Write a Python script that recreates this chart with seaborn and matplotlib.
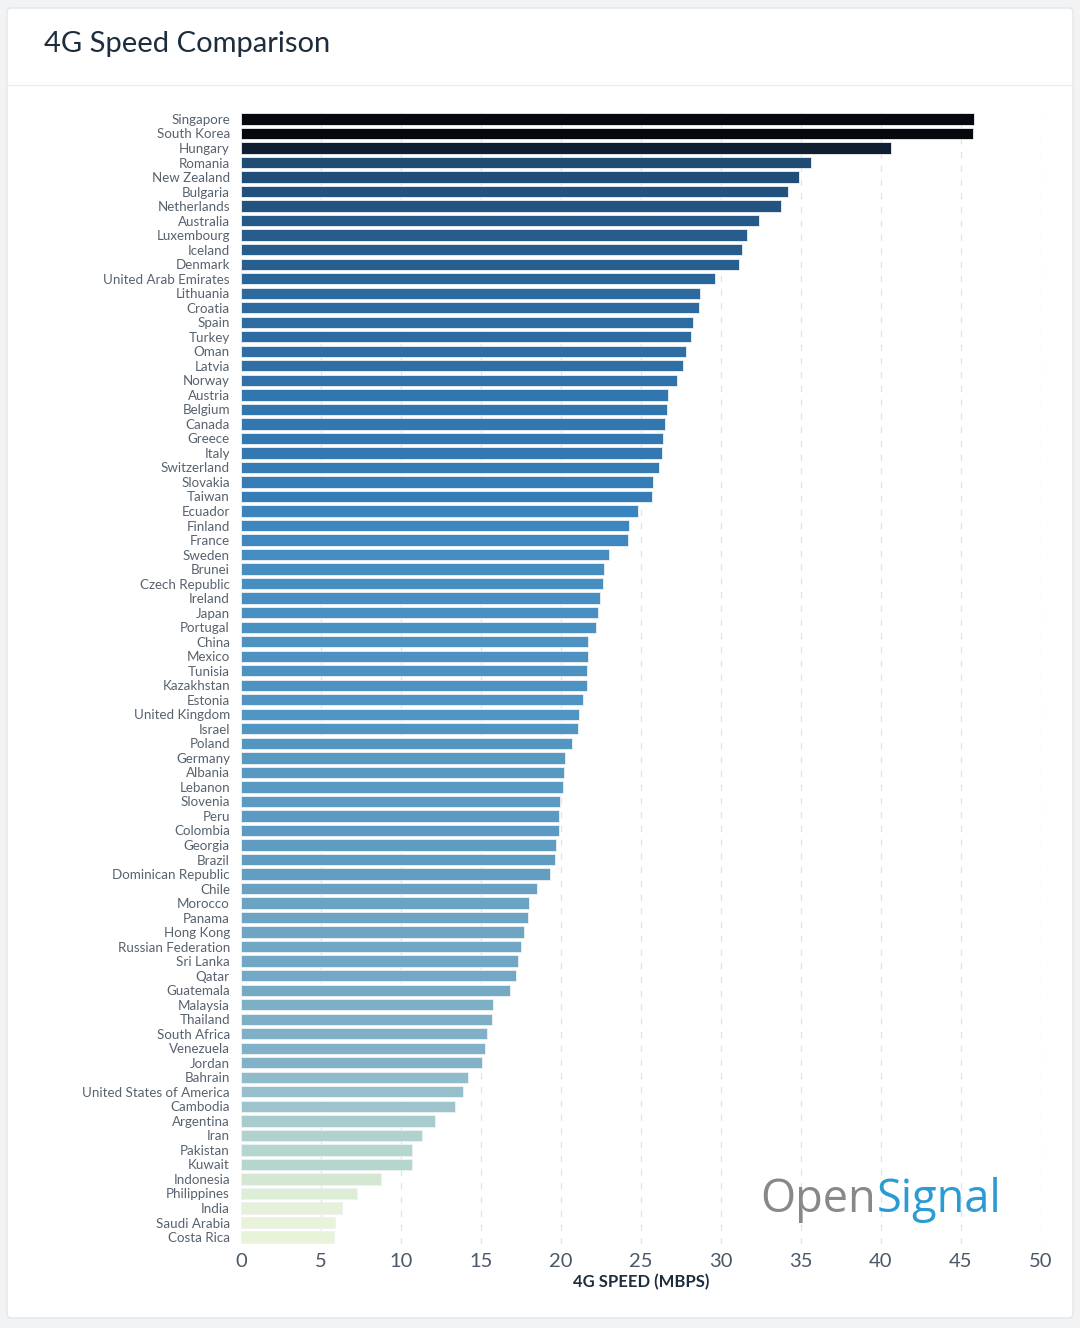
import numpy as np
import pandas as pd
import matplotlib
matplotlib.use("Agg")
import matplotlib.pyplot as plt
import seaborn as sns
from matplotlib.colors import LinearSegmentedColormap, Normalize
from matplotlib.patches import FancyBboxPatch
from matplotlib.lines import Line2D

# data (Mbps)
countries = [
    "Singapore", "South Korea", "Hungary", "Romania", "New Zealand", "Bulgaria",
    "Netherlands", "Australia", "Luxembourg", "Iceland", "Denmark",
    "United Arab Emirates", "Lithuania", "Croatia", "Spain", "Turkey", "Oman",
    "Latvia", "Norway", "Austria", "Belgium", "Canada", "Greece", "Italy",
    "Switzerland", "Slovakia", "Taiwan", "Ecuador", "Finland", "France",
    "Sweden", "Brunei", "Czech Republic", "Ireland", "Japan", "Portugal",
    "China", "Mexico", "Tunisia", "Kazakhstan", "Estonia", "United Kingdom",
    "Israel", "Poland", "Germany", "Albania", "Lebanon", "Slovenia", "Peru",
    "Colombia", "Georgia", "Brazil", "Dominican Republic", "Chile", "Morocco",
    "Panama", "Hong Kong", "Russian Federation", "Sri Lanka", "Qatar",
    "Guatemala", "Malaysia", "Thailand", "South Africa", "Venezuela", "Jordan",
    "Bahrain", "United States of America", "Cambodia", "Argentina", "Iran",
    "Pakistan", "Kuwait", "Indonesia", "Philippines", "India", "Saudi Arabia",
    "Costa Rica",
]
speed = [
    45.8, 45.75, 40.6, 35.6, 34.9, 34.2,
    33.75, 32.4, 31.6, 31.3, 31.1,
    29.6, 28.7, 28.6, 28.25, 28.1, 27.8,
    27.6, 27.25, 26.7, 26.6, 26.5, 26.4, 26.3,
    26.1, 25.75, 25.7, 24.8, 24.25, 24.2,
    23.0, 22.7, 22.6, 22.45, 22.3, 22.2,
    21.7, 21.7, 21.65, 21.6, 21.4, 21.1,
    21.05, 20.7, 20.25, 20.2, 20.1, 19.95, 19.9,
    19.9, 19.7, 19.6, 19.3, 18.5, 18.0,
    17.95, 17.7, 17.5, 17.3, 17.2,
    16.8, 15.75, 15.7, 15.4, 15.25, 15.05,
    14.2, 13.9, 13.4, 12.1, 11.3,
    10.7, 10.7, 8.75, 7.25, 6.3, 5.9,
    5.8,
]
xticks = [0, 5, 10, 15, 20, 25, 30, 35, 40, 45, 50]

df = pd.DataFrame({"country": countries, "speed": speed})

# colour ramp by value, pale green -> blue -> near black
ramp = LinearSegmentedColormap.from_list("os", [
    (0.000, "#e8f3da"),
    (0.074, "#d2e6d2"),
    (0.120, "#b6d6cf"),
    (0.190, "#9cc3cc"),
    (0.230, "#82b2c8"),
    (0.320, "#67a1c2"),
    (0.380, "#5195c2"),
    (0.475, "#3a84bf"),
    (0.555, "#2d6ca3"),
    (0.630, "#285f8f"),
    (0.745, "#1f4b75"),
    (0.870, "#111d30"),
    (1.000, "#06080d"),
])
norm = Normalize(vmin=min(speed), vmax=max(speed))
palette = [ramp(norm(v)) for v in speed]

fig = plt.figure(figsize=(10.8, 13.28), dpi=100)
fig.patch.set_facecolor("#f2f3f4")

# white card + header separator (behind everything)
card = FancyBboxPatch((7 / 1080, 1 - 1318 / 1328), 1066 / 1080, 1310 / 1328,
                      boxstyle="round,pad=0,rounding_size=0.004",
                      transform=fig.transFigure, facecolor="white",
                      edgecolor="#e4e6e8", linewidth=1.0, zorder=-10)
fig.patches.append(card)
fig.lines.append(Line2D([7 / 1080, 1073 / 1080], [1 - 85 / 1328, 1 - 85 / 1328],
                        transform=fig.transFigure, color="#eceef0", linewidth=1.0,
                        zorder=-5))

fig.text(44 / 1080, 1 - 44 / 1328, "4G Speed Comparison", fontsize=21,
         color="#1d2d3d", va="center", ha="left", family="Lato")

ax = fig.add_axes([241 / 1080, 1 - 1244.3 / 1328, 800 / 1080, (1244.3 - 111.7) / 1328])
ax.set_facecolor("none")

sns.barplot(data=df, x="speed", y="country", hue="country", palette=palette,
            saturation=1, legend=False, width=0.78, edgecolor="#eef2f5",
            linewidth=0.6, ax=ax, zorder=3)

ax.set_xlim(0, 50)
ax.set_ylim(len(countries) - 0.5, -0.5)
ax.set_xticks(xticks)
ax.set_xticklabels([str(t) for t in xticks], fontsize=14.5, color="#4a5868",
                   family="Lato")
ax.tick_params(axis="x", length=0, pad=6)
ax.tick_params(axis="y", length=0, pad=8)
for lab in ax.get_yticklabels():
    lab.set_fontsize(9.6)
    lab.set_color("#56626e")
    lab.set_family("Lato")

for t in xticks[1:]:
    ax.axvline(t, color="#dfe3e6", linewidth=0.9, linestyle=(0, (5, 6)), zorder=1)

for s in ax.spines.values():
    s.set_visible(False)

ax.set_ylabel("")
ax.set_xlabel("4G SPEED (MBPS)", fontsize=12, fontweight="bold", color="#1d2d3d",
              family="Lato", labelpad=3)

# OpenSignal mark: "Open" in grey, "Signal" in blue right after it
t_open = fig.text(760 / 1080, 1 - 1200 / 1328, "Open", fontsize=32.5, color="#888888",
                  va="center", ha="left", family="Open Sans")
fig.canvas.draw()
bb = t_open.get_window_extent()
fig.text(bb.x1 / (1080) + 1 / 1080, 1 - 1200 / 1328, "Signal", fontsize=32.5,
         color="#2b9bd3", va="center", ha="left", family="Open Sans")

fig.savefig("out.png", dpi=100, facecolor=fig.get_facecolor())
